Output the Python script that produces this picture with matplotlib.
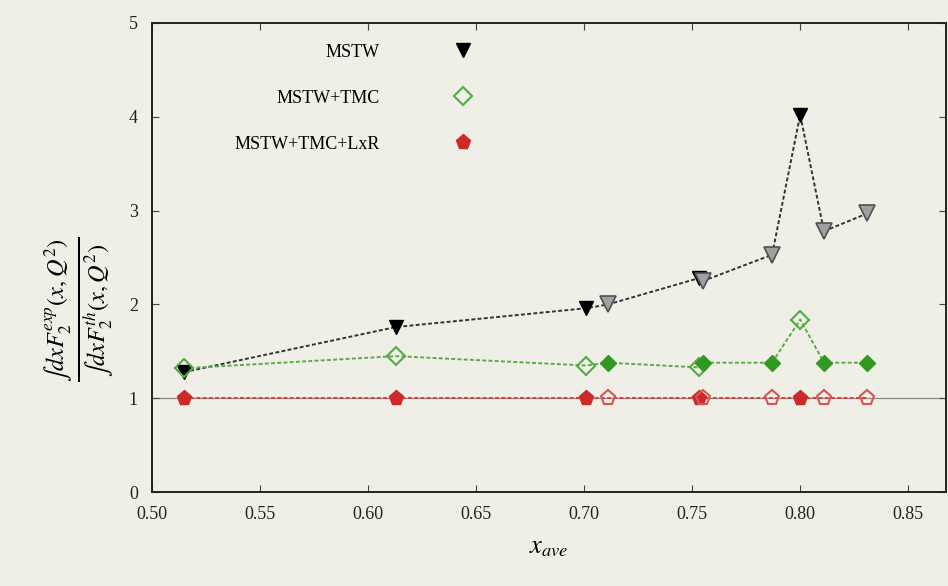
import numpy as np
import matplotlib.pyplot as plt
from matplotlib.lines import Line2D

# x positions of the measurements
x_avg = [0.515, 0.613, 0.701, 0.711, 0.753, 0.755, 0.787, 0.800, 0.811, 0.831]
# ratio values for each pdf treatment
mstw = [1.28, 1.76, 1.96, 2.00, 2.28, 2.25, 2.53, 4.02, 2.78, 2.97]
mstw_tmc = [1.32, 1.45, 1.35, 1.38, 1.33, 1.38, 1.38, 1.84, 1.38, 1.38]
mstw_tmc_lxr = [1.0, 1.0, 1.0, 1.0, 1.0, 1.0, 1.0, 1.0, 1.0, 1.0]
# which points belong to the first data set (the others are drawn in the alternate style)
first_set = [True, True, True, False, True, False, False, True, False, False]

plt.rcParams['font.family'] = ['Liberation Serif', 'DejaVu Serif']
plt.rcParams['mathtext.fontset'] = 'stix'

bg = '#efeee7'
fig = plt.figure(figsize=(9.48, 5.86), dpi=100, facecolor=bg)
ax = fig.add_axes([0.160, 0.160, 0.838, 0.801], facecolor=bg)

x = np.array(x_avg)
a = np.array(first_set)
b = ~a

ax.axhline(1, color='#8a8a8a', lw=0.9, zorder=1)

# lines through all points
ax.plot(x, mstw, color='#333333', ls=(0, (2, 1.2)), lw=1.4, zorder=2)
ax.plot(x, mstw_tmc, color='#5aaa45', ls=(0, (2, 1.2)), lw=1.4, zorder=2)
ax.plot(x, mstw_tmc_lxr, color='#cc4444', ls=(0, (2, 1.2)), lw=1.4, zorder=2)

y1 = np.array(mstw)
y2 = np.array(mstw_tmc)
y3 = np.array(mstw_tmc_lxr)

# black series
ax.plot(x[a], y1[a], 'v', ms=10, color='black', zorder=4)
ax.plot(x[b], y1[b], 'v', ms=11, mfc='#a0a0a0', mec='#505050', mew=1.2, zorder=4)
# green series
ax.plot(x[a], y2[a], 'D', ms=9, mfc='none', mec='#55aa44', mew=1.5, zorder=4)
ax.plot(x[b], y2[b], 'D', ms=8.5, color='#2f9a22', zorder=4)
# red series
ax.plot(x[a], y3[a], 'p', ms=11, color='#cc2a2a', zorder=4)
ax.plot(x[b], y3[b], 'p', ms=11, mfc='none', mec='#d65555', mew=1.5, zorder=4)

ax.set_xlim(0.50, 0.8675)
ax.set_ylim(0, 5)
ax.set_xticks([0.50, 0.55, 0.60, 0.65, 0.70, 0.75, 0.80, 0.85])
ax.set_xticklabels(['0.50', '0.55', '0.60', '0.65', '0.70', '0.75', '0.80', '0.85'])
ax.set_yticks([0, 1, 2, 3, 4, 5])
ax.tick_params(direction='in', top=True, right=True, length=5, labelsize=13, pad=10,
               color='#444444', labelcolor='#222222')
for s in ax.spines.values():
    s.set_linewidth(1.4)
    s.set_color('#222222')

ax.set_xlabel(r'$x_{ave}$', fontsize=19, labelpad=10)
ax.set_ylabel(r'$\frac{\int dx F_2^{exp}(x,Q^2)}{\int dx F_2^{th}(x,Q^2)}$', fontsize=25)
ax.yaxis.set_label_coords(-0.045, 0.39)

handles = [
    Line2D([], [], ls='none', marker='v', ms=10, color='black'),
    Line2D([], [], ls='none', marker='D', ms=9, mfc='none', mec='#55aa44', mew=1.5),
    Line2D([], [], ls='none', marker='p', ms=11, color='#cc2a2a'),
]
ax.legend(handles, ['MSTW', 'MSTW+TMC', 'MSTW+TMC+LxR'], markerfirst=False, frameon=False,
          loc='upper right', bbox_to_anchor=(0.435, 0.99), fontsize=13, labelspacing=1.6,
          handletextpad=3.6)

fig.savefig('out.png', dpi=100, facecolor=bg)
